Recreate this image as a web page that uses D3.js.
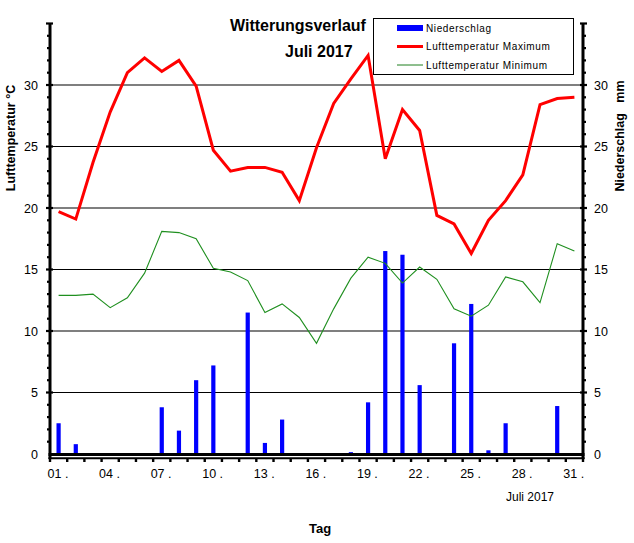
<!DOCTYPE html>
<html>
<head>
<meta charset="utf-8">
<script src="https://cdn.jsdelivr.net/npm/d3@7"></script>
<style>
  body { margin: 0; background: #fff; }
  svg { display: block; font-family: "Liberation Sans", Arial, sans-serif; }
</style>
</head>
<body>
<script>
// Juli 2017, Tageswerte
var days = d3.range(1, 32);
var tMax = [19.7, 19.1, 23.7, 27.8, 31.0, 32.2, 31.1, 32.0, 29.9, 24.7,
            23.0, 23.3, 23.3, 22.9, 20.6, 24.9, 28.5, 30.5, 32.4, 24.0,
            28.0, 26.3, 19.4, 18.7, 16.3, 19.0, 20.6, 22.7, 28.4, 28.9, 29.0];
var tMin = [12.9, 12.9, 13.0, 11.9, 12.7, 14.7, 18.1, 18.0, 17.5, 15.1,
            14.8, 14.1, 11.5, 12.2, 11.1, 9.0, 11.8, 14.3, 16.0, 15.5,
            13.9, 15.2, 14.2, 11.8, 11.2, 12.1, 14.4, 14.0, 12.3, 17.1, 16.5];
var rain = [2.5, 0.8, 0, 0, 0, 0, 3.8, 1.9, 6.0, 7.2,
            0, 11.5, 0.9, 2.8, 0, 0, 0, 0.15, 4.2, 16.5,
            16.2, 5.6, 0, 9.0, 12.2, 0.3, 2.5, 0, 0, 3.9, 0];
var dayLabels = [1, 4, 7, 10, 13, 16, 19, 22, 25, 28, 31];
var yTicks = [0, 5, 10, 15, 20, 25, 30];
var legendItems = ["Niederschlag", "Lufttemperatur Maximum", "Lufttemperatur Minimum"];

var W = 634, H = 543;
var svg = d3.select("body").append("svg").attr("width", W).attr("height", H);

var x = d3.scaleLinear().domain([0.5, 31.5]).range([50, 583]);
var y = d3.scaleLinear().domain([0, 35]).range([454, 23.5]);   // Temperatur
var yR = d3.scaleLinear().domain([0, 35]).range([454, 23.5]);  // Niederschlag

// gitter
svg.selectAll("line.grid").data(yTicks.slice(1))
  .enter().append("line").attr("class", "grid")
    .attr("x1", x(0.5)).attr("x2", x(31.5))
    .attr("y1", function(d) { return y(d); }).attr("y2", function(d) { return y(d); })
    .style("stroke", "#000").style("stroke-width", 1.2);

// niederschlag
var bw = 4.2;
svg.selectAll("rect.rain").data(rain)
  .enter().append("rect").attr("class", "rain")
    .attr("x", function(d, i) { return x(days[i]) - bw / 2; })
    .attr("y", function(d) { return yR(d); })
    .attr("width", bw)
    .attr("height", function(d) { return yR(0) - yR(d); })
    .style("fill", "#0000ff");

var line = d3.line()
  .x(function(d, i) { return x(days[i]); })
  .y(function(d) { return y(d); });

svg.append("path").datum(tMin).attr("d", line)
  .style("fill", "none").style("stroke", "#1f8f1f").style("stroke-width", 1.1);
svg.append("path").datum(tMax).attr("d", line)
  .style("fill", "none").style("stroke", "#ff0000").style("stroke-width", 3)
  .style("stroke-linejoin", "miter");

// achsen
var allY = d3.range(0, 36);
var ax = svg.append("g").style("stroke", "#000");
ax.append("line").attr("x1", x(0.5)).attr("x2", x(0.5)).attr("y1", y(35)).attr("y2", 459)
  .style("stroke-width", 3);
ax.append("line").attr("x1", x(31.5)).attr("x2", x(31.5)).attr("y1", y(35)).attr("y2", 459)
  .style("stroke-width", 3);
ax.append("line").attr("x1", x(0.5) - 1.5).attr("x2", x(31.5) + 1.5).attr("y1", 454.5).attr("y2", 454.5)
  .style("stroke-width", 3);
ax.append("line").attr("x1", x(0.5) - 1.5).attr("x2", x(31.5) + 1.5).attr("y1", 458.3).attr("y2", 458.3)
  .style("stroke-width", 2);

// kleine striche links / rechts
ax.selectAll("line.tl").data(allY.slice(1))
  .enter().append("line").attr("class", "tl")
    .attr("x1", function(d) { return d % 5 ? x(0.5) - 3 : x(0.5) - 4; })
    .attr("x2", function(d) { return d % 5 ? x(0.5) : x(0.5) + 3; })
    .attr("y1", function(d) { return y(d); }).attr("y2", function(d) { return y(d); })
    .style("stroke-width", 2.2);
ax.selectAll("line.tr").data(allY.slice(1))
  .enter().append("line").attr("class", "tr")
    .attr("x1", function(d) { return d % 5 ? x(31.5) : x(31.5) - 3; })
    .attr("x2", function(d) { return d % 5 ? x(31.5) + 3 : x(31.5) + 4; })
    .attr("y1", function(d) { return yR(d); }).attr("y2", function(d) { return yR(d); })
    .style("stroke-width", 2.2);
// tagesstriche
ax.selectAll("line.tx").data(d3.range(0, 32))
  .enter().append("line").attr("class", "tx")
    .attr("x1", function(d) { return x(d + 0.5); }).attr("x2", function(d) { return x(d + 0.5); })
    .attr("y1", 458).attr("y2", 462)
    .style("stroke-width", 2.4);

// beschriftung
svg.selectAll("text.yl").data(yTicks)
  .enter().append("text").attr("class", "yl")
    .attr("x", 38).attr("y", function(d) { return y(d) + 4.5; })
    .attr("text-anchor", "end").style("font-size", "12.5px")
    .text(function(d) { return d; });
svg.selectAll("text.yr").data(yTicks)
  .enter().append("text").attr("class", "yr")
    .attr("x", 594).attr("y", function(d) { return yR(d) + 4.5; })
    .style("font-size", "12.5px")
    .text(function(d) { return d; });
svg.selectAll("text.xl").data(dayLabels)
  .enter().append("text").attr("class", "xl")
    .attr("x", function(d) { return x(d - 0.5) - 2.5; }).attr("y", 478)
    .style("font-size", "12.5px")
    .text(function(d) { return d3.format("02d")(d) + " ."; });

svg.append("text").attr("x", 506).attr("y", 501).style("font-size", "12px").text("Juli 2017");
svg.append("text").attr("x", 320).attr("y", 533).attr("text-anchor", "middle")
  .style("font-size", "13px").style("font-weight", "bold").text("Tag");

svg.append("text").attr("transform", "translate(15,138) rotate(-90)").attr("text-anchor", "middle")
  .style("font-size", "12.5px").style("font-weight", "bold").text("Lufttemperatur  °C");
svg.append("text").attr("transform", "translate(624,136) rotate(-90)").attr("text-anchor", "middle")
  .style("font-size", "12.5px").style("font-weight", "bold").style("white-space", "pre")
  .text("Niederschlag   mm");

svg.append("text").attr("x", 230).attr("y", 31)
  .style("font-size", "16px").style("font-weight", "bold").text("Witterungsverlauf");
svg.append("text").attr("x", 285).attr("y", 57)
  .style("font-size", "16px").style("font-weight", "bold").text("Juli 2017");

// legende
var lg = svg.append("g");
lg.append("rect").attr("x", 373.5).attr("y", 18.5).attr("width", 200).attr("height", 56)
  .style("fill", "#fff").style("stroke", "#000").style("stroke-width", 1);
lg.append("rect").attr("x", 397).attr("y", 25).attr("width", 26).attr("height", 6).style("fill", "#0000ff");
lg.append("line").attr("x1", 397).attr("x2", 423).attr("y1", 46.5).attr("y2", 46.5)
  .style("stroke", "#ff0000").style("stroke-width", 3);
lg.append("line").attr("x1", 397).attr("x2", 423).attr("y1", 65).attr("y2", 65)
  .style("stroke", "#1f7f1f").style("stroke-width", 1);
lg.selectAll("text").data(legendItems)
  .enter().append("text")
    .attr("x", 426).attr("y", function(d, i) { return [31.5, 50, 69][i]; })
    .style("font-size", "10px").style("letter-spacing", "0.6px")
    .text(function(d) { return d; });
</script>
</body>
</html>
